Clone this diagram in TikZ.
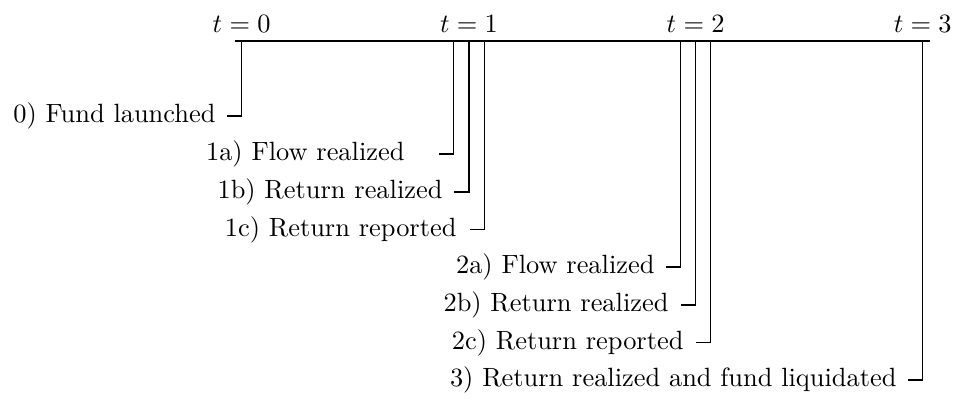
\documentclass[tikz,border=0pt]{standalone}
\begin{document}
\begin{tikzpicture}[x=0.3788pt,y=-0.3788pt,
  lbl/.style={anchor=east, inner sep=0pt},
  tlbl/.style={anchor=base, inner sep=0pt},
  conn/.style={draw, line width=0.4pt}]
\useasboundingbox (0,0) rectangle (958,399);
% timeline
\coordinate (tl) at (235,41);
\coordinate (tr) at (930,41);
\draw[conn] (tl) -- (tr);
% tick points on the timeline
\coordinate (s0)  at (241.7,41);
\coordinate (s1a) at (453.5,41);
\coordinate (s1b) at (469,41);
\coordinate (s1c) at (484.3,41);
\coordinate (s2a) at (680.7,41);
\coordinate (s2b) at (695.7,41);
\coordinate (s2c) at (710.7,41);
\coordinate (s3)  at (922.7,41);
% time labels
\node[tlbl] (T0) at (241.7,32) {$t=0$};
\node[tlbl] (T1) at (469,32) {$t=1$};
\node[tlbl] (T2) at (695.7,32) {$t=2$};
\node[tlbl] (T3) at (922.7,32) {$t=3$};
% hook ends
\coordinate (h0)  at (227,116);
\coordinate (h1a) at (439,154);
\coordinate (h1b) at (454,192);
\coordinate (h1c) at (470,229.5);
\coordinate (h2a) at (666,267);
\coordinate (h2b) at (681,305);
\coordinate (h2c) at (696,342.5);
\coordinate (h3)  at (908,380);
% event labels
\node[lbl] (l0)  at (216,116)   {0) Fund launched};
\node[lbl] (l1a) at (405,154)   {1a) Flow realized};
\node[lbl] (l1b) at (443,192)   {1b) Return realized};
\node[lbl] (l1c) at (457,229.5) {1c) Return reported};
\node[lbl] (l2a) at (655,267)   {2a) Flow realized};
\node[lbl] (l2b) at (669,305)   {2b) Return realized};
\node[lbl] (l2c) at (684,342.5) {2c) Return reported};
\node[lbl] (l3)  at (897,380)   {3) Return realized and fund liquidated};
% connectors
\draw[conn] (s0)  |- (h0);
\draw[conn] (s1a) |- (h1a);
\draw[conn] (s1b) |- (h1b);
\draw[conn] (s1c) |- (h1c);
\draw[conn] (s2a) |- (h2a);
\draw[conn] (s2b) |- (h2b);
\draw[conn] (s2c) |- (h2c);
\draw[conn] (s3)  |- (h3);
\end{tikzpicture}
\end{document}
